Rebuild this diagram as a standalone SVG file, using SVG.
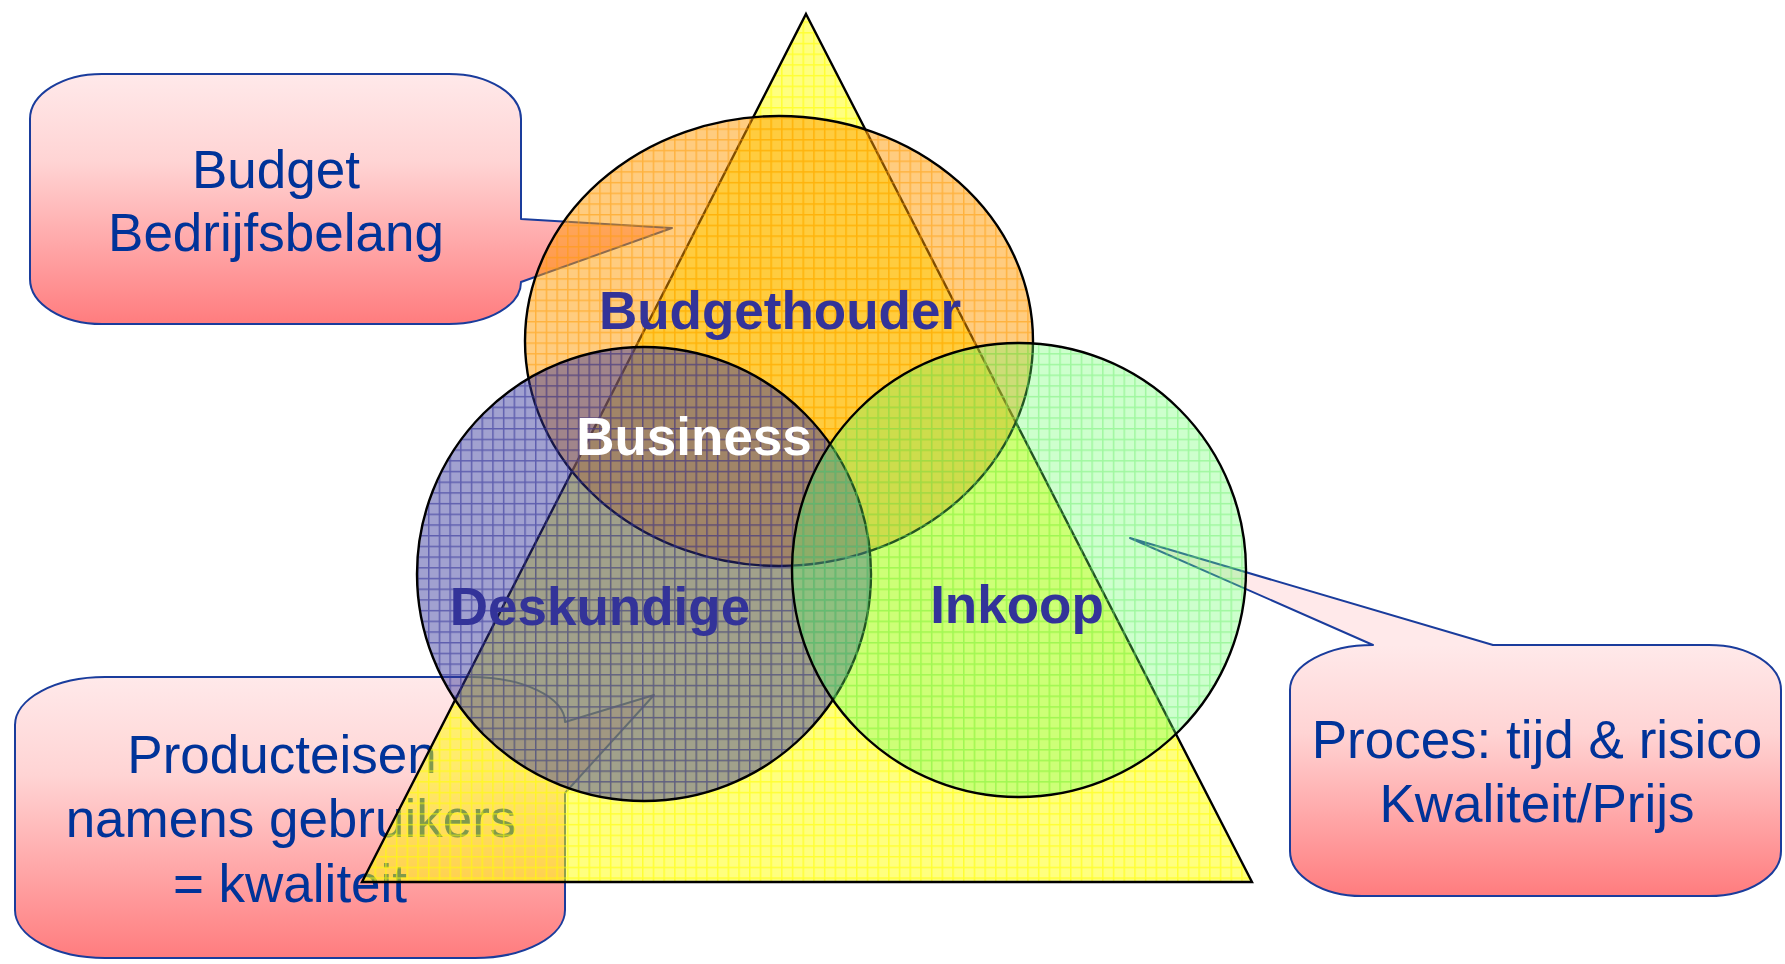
<svg xmlns="http://www.w3.org/2000/svg" width="1785" height="964" viewBox="0 0 1785 964">
<style>
.call{stroke:#1A3C9C;stroke-width:2;stroke-linejoin:round}
.ct{font-family:"Liberation Sans",Arial,sans-serif;font-size:53px;fill:#003399;text-anchor:middle}
.lbl{font-family:"Liberation Sans",Arial,sans-serif;font-weight:bold;font-size:53px;fill:#333399;text-anchor:middle}
.shape{stroke:#000;stroke-width:2.4}
</style>
<defs>
<linearGradient id="g1" gradientUnits="userSpaceOnUse" x1="0" y1="74" x2="0" y2="324"><stop offset="0" stop-color="#FFE9EA"/><stop offset="0.35" stop-color="#FFD4D4"/><stop offset="1" stop-color="#FF7C7E"/></linearGradient>
<linearGradient id="g2" gradientUnits="userSpaceOnUse" x1="0" y1="677" x2="0" y2="958"><stop offset="0" stop-color="#FFE9EA"/><stop offset="0.35" stop-color="#FFD4D4"/><stop offset="1" stop-color="#FF7C7E"/></linearGradient>
<linearGradient id="g3" gradientUnits="userSpaceOnUse" x1="0" y1="645" x2="0" y2="896"><stop offset="0" stop-color="#FFE9EA"/><stop offset="0.35" stop-color="#FFD4D4"/><stop offset="1" stop-color="#FF7C7E"/></linearGradient>
<pattern id="pY" width="10.7" height="10.7" patternUnits="userSpaceOnUse"><rect width="10.7" height="10.7" fill="#FFFF00" fill-opacity="0.5"/><path d="M0 0.75H10.7M0.75 0V10.7" stroke="#FFFF00" stroke-opacity="0.6" stroke-width="1.5"/></pattern>
<pattern id="pO" width="10.7" height="10.7" patternUnits="userSpaceOnUse"><rect width="10.7" height="10.7" fill="#FF9900" fill-opacity="0.5"/><path d="M0 0.75H10.7M0.75 0V10.7" stroke="#FF9900" stroke-opacity="0.5" stroke-width="1.5"/></pattern>
<pattern id="pB" width="10.7" height="10.7" patternUnits="userSpaceOnUse"><rect width="10.7" height="10.7" fill="#333399" fill-opacity="0.46"/><path d="M0 0.75H10.7M0.75 0V10.7" stroke="#333399" stroke-opacity="0.6" stroke-width="1.5"/></pattern>
<pattern id="pG" width="10.7" height="10.7" patternUnits="userSpaceOnUse"><rect width="10.7" height="10.7" fill="#66FF66" fill-opacity="0.33"/><path d="M0 0.75H10.7M0.75 0V10.7" stroke="#66EE66" stroke-opacity="0.45" stroke-width="1.5"/></pattern>
</defs>
<rect width="1785" height="964" fill="#FFFFFF"/>

<g id="callout-budget">
<path class="call" fill="url(#g1)" d="M102,74 H449 A72 45 0 0 1 521,119 V219 L672,228 L521,282 A72 42 0 0 1 449,324 H102 A72 45 0 0 1 30,279 V119 A72 45 0 0 1 102,74 Z"/>
<text class="ct" x="276" y="188">Budget</text>
<text class="ct" x="276" y="251">Bedrijfsbelang</text>
</g>

<g id="callout-producteisen">
<path class="call" fill="url(#g2)" d="M105,677 H470 A95 45 0 0 1 565,722 L654,695 L565,793 V910 A90 48 0 0 1 475,958 H105 A90 48 0 0 1 15,910 V725 A90 48 0 0 1 105,677 Z"/>
<text class="ct" x="282" y="773">Producteisen</text>
<text class="ct" x="291" y="837">namens gebruikers</text>
<text class="ct" x="290" y="902">= kwaliteit</text>
</g>

<g id="callout-proces">
<path class="call" fill="url(#g3)" d="M1373,645 L1130,538 L1493,645 H1709 A72 45 0 0 1 1781,690 V851 A72 45 0 0 1 1709,896 H1362 A72 45 0 0 1 1290,851 V690 A83 45 0 0 1 1373,645 Z"/>
<text class="ct" x="1537" y="758">Proces: tijd &amp; risico</text>
<text class="ct" x="1537" y="822">Kwaliteit/Prijs</text>
</g>

<g id="triangle">
<polygon class="shape" fill="url(#pY)" stroke-width="2.6" points="806,14 1252,882 362,882"/>
</g>

<g id="budgethouder">
<ellipse class="shape" fill="url(#pO)" cx="779" cy="341" rx="254" ry="225"/>
<text class="lbl" x="780" y="329" style="font-size:53px">Budgethouder</text>
</g>

<g id="deskundige">
<circle class="shape" fill="url(#pB)" cx="644" cy="574" r="227"/>
<text class="lbl" x="600" y="625">Deskundige</text>
</g>

<g id="inkoop">
<circle class="shape" fill="url(#pG)" cx="1019" cy="570" r="227"/>
<text class="lbl" x="1017" y="623">Inkoop</text>
</g>

<g id="business">
<text class="lbl" x="694" y="455" style="fill:#FFFFFF;font-size:53px">Business</text>
</g>
</svg>
